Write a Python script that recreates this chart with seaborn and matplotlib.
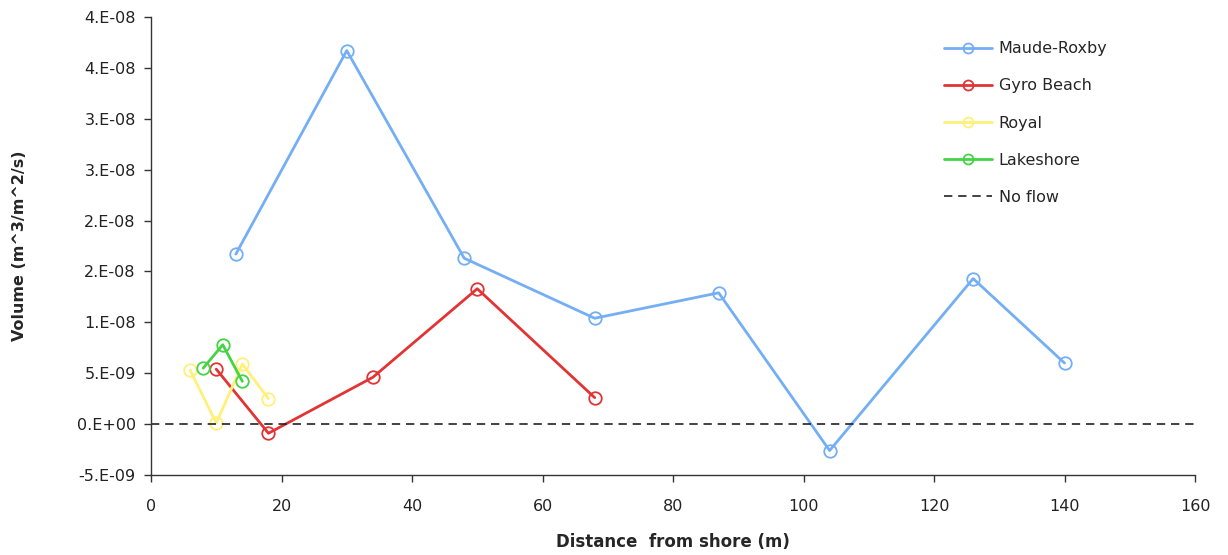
import matplotlib
matplotlib.use("Agg")
import matplotlib.pyplot as plt
import seaborn as sns
import pandas as pd

# values
maude_x = [13, 30, 48, 68, 87, 104, 126, 140]
maude_y = [1.67e-8, 3.67e-8, 1.63e-8, 1.04e-8, 1.29e-8, -2.6e-9, 1.43e-8, 6.0e-9]

gyro_x = [10, 18, 34, 50, 68]
gyro_y = [5.4e-9, -0.9e-9, 4.6e-9, 1.33e-8, 2.6e-9]

royal_x = [6, 10, 14, 18]
royal_y = [5.3e-9, 0.1e-9, 5.9e-9, 2.5e-9]

lake_x = [8, 11, 14]
lake_y = [5.5e-9, 7.8e-9, 4.2e-9]

y_ticks = [-5e-9, 0, 5e-9, 1e-8, 1.5e-8, 2e-8, 2.5e-8, 3e-8, 3.5e-8, 4e-8]
y_tick_labels = ["-5.E-09", "0.E+00", "5.E-09", "1.E-08", "2.E-08", "2.E-08",
                 "3.E-08", "3.E-08", "4.E-08", "4.E-08"]
x_ticks = [0, 20, 40, 60, 80, 100, 120, 140, 160]

series = [
    ("Maude-Roxby", maude_x, maude_y, "#74AEF4"),
    ("Gyro Beach", gyro_x, gyro_y, "#E23434"),
    ("Royal", royal_x, royal_y, "#FFF07A"),
    ("Lakeshore", lake_x, lake_y, "#44D444"),
]

sns.set_style("white")
plt.rcParams['font.family'] = ['DejaVu Sans']

fig = plt.figure(figsize=(12.28, 5.55), dpi=100)
ax = fig.add_axes([151 / 1228, 1 - 475 / 555, (1195 - 151) / 1228, (475 - 17) / 555])

for name, xs, ys, col in series:
    df = pd.DataFrame({'x': xs, 'y': ys})
    sns.lineplot(data=df, x='x', y='y', ax=ax, color=col, lw=2, label=name,
                 marker='o', markersize=9, markerfacecolor='none',
                 markeredgecolor=col, markeredgewidth=1.3, sort=False)

ax.axhline(0, color='#222222', lw=1.2, ls=(0, (5, 3.5)), label='No flow')

ax.set_xlim(0, 160)
ax.set_ylim(-5e-9, 4e-8)
ax.set_xticks(x_ticks)
ax.set_xticklabels([str(v) for v in x_ticks])
ax.set_yticks(y_ticks)
ax.set_yticklabels(y_tick_labels)
ax.tick_params(axis='both', which='both', direction='out', length=5, width=1,
               color='#333333', labelsize=11.5, labelcolor='#222222', pad=6,
               left=True, bottom=True)
ax.tick_params(axis='x', pad=12)

for side in ['top', 'right']:
    ax.spines[side].set_visible(False)
for side in ['left', 'bottom']:
    ax.spines[side].set_color('#333333')
    ax.spines[side].set_linewidth(1)

ax.set_xlabel('Distance  from shore (m)', fontsize=12, fontweight='bold', labelpad=14)
ax.set_ylabel('Volume (m^3/m^2/s)', fontsize=11.5, fontweight='bold', labelpad=36)

leg = ax.legend(loc='upper right', bbox_to_anchor=(0.93, 0.978), frameon=False,
                fontsize=11.5, labelspacing=1.38, handlelength=3.0, handletextpad=0.4,
                markerscale=0.8)

fig.savefig('out.png', dpi=100)
